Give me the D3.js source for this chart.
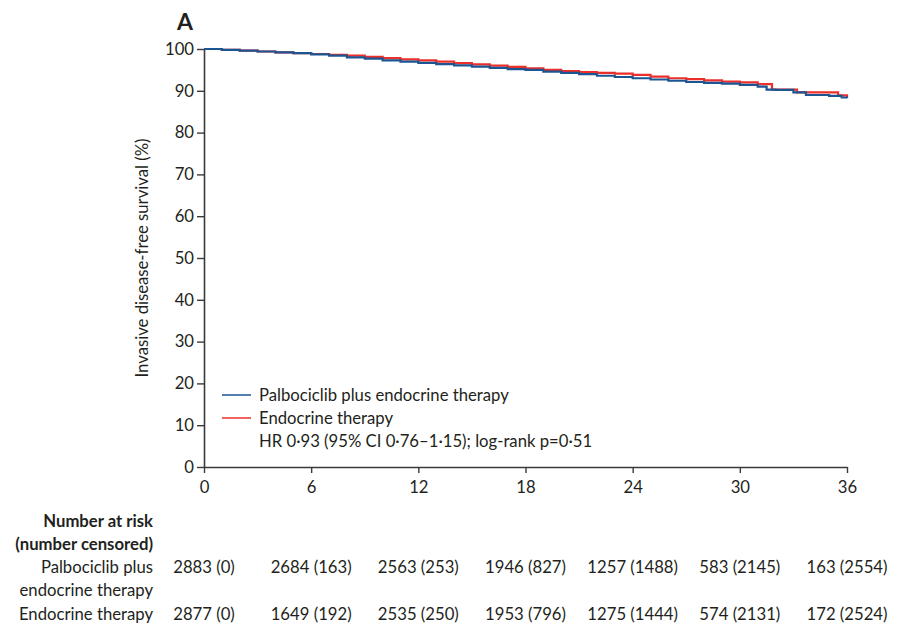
<!DOCTYPE html>
<html>
<head>
<meta charset="utf-8">
<script src="https://cdn.jsdelivr.net/npm/d3@7"></script>
<style>
  body { margin: 0; background: #fff; }
  text { font-family: Lato, "Noto Sans", sans-serif; fill: #231f20; }
</style>
</head>
<body>
<div id="chart"></div>
<script>
// Data
var xTicks = [0, 6, 12, 18, 24, 30, 36];
var yTicks = [0, 10, 20, 30, 40, 50, 60, 70, 80, 90, 100];

var palboMonths = [0, 1, 2, 3, 4, 5, 6, 7, 8, 9, 10, 11, 12, 13, 14, 15, 16, 17, 18, 19, 20, 21, 22, 23, 24, 25, 26, 27, 28, 29, 30, 31, 31.5, 32, 33, 33.7, 35, 35.7, 36];
var palboSurv = [100, 99.8, 99.6, 99.4, 99.2, 99.0, 98.7, 98.4, 98.0, 97.7, 97.3, 97.0, 96.7, 96.4, 96.1, 95.8, 95.5, 95.2, 95.0, 94.6, 94.3, 94.0, 93.6, 93.3, 93.0, 92.7, 92.4, 92.1, 91.9, 91.7, 91.4, 91.0, 90.3, 90.2, 89.6, 89.0, 88.8, 88.4, 88.2];

var endoMonths = [0, 1, 2, 3, 4, 5, 6, 7, 8, 9, 10, 11, 12, 13, 14, 15, 16, 17, 18, 19, 20, 21, 22, 23, 24, 25, 26, 27, 28, 29, 30, 31, 31.8, 32, 33.2, 35.5, 36];
var endoSurv = [100, 99.8, 99.6, 99.4, 99.2, 99.0, 98.8, 98.6, 98.4, 98.1, 97.8, 97.5, 97.3, 97.0, 96.6, 96.3, 96.0, 95.7, 95.4, 95.0, 94.7, 94.5, 94.3, 94.1, 93.8, 93.4, 93.0, 92.8, 92.5, 92.2, 92.0, 91.6, 90.3, 90.3, 89.6, 88.9, 88.5];

var riskPalbo = ["2883 (0)", "2684 (163)", "2563 (253)", "1946 (827)", "1257 (1488)", "583 (2145)", "163 (2554)"];
var riskEndo = ["2877 (0)", "1649 (192)", "2535 (250)", "1953 (796)", "1275 (1444)", "574 (2131)", "172 (2524)"];

var blue = "#1b5592";
var red = "#ec2f2a";
var fs = "16.7px";

var svgWidth = 902, svgHeight = 640;
var margin = { top: 49, left: 204, right: 55, bottom: 173 };
var width = svgWidth - margin.left - margin.right;
var height = svgHeight - margin.top - margin.bottom;

var svg = d3.select("#chart").append("svg")
    .attr("width", svgWidth)
    .attr("height", svgHeight);

var g = svg.append("g")
    .attr("transform", `translate(${margin.left}, ${margin.top})`);

var x = d3.scaleLinear().domain([0, 36]).range([0, width]);
var y = d3.scaleLinear().domain([0, 100]).range([height, 0]);

// axes
var xAxis = g.append("g")
    .attr("transform", `translate(0, ${height})`)
    .call(d3.axisBottom(x).tickValues(xTicks).tickSize(6).tickSizeOuter(0).tickPadding(8));
var yAxis = g.append("g")
    .call(d3.axisLeft(y).tickValues(yTicks).tickSize(7).tickSizeOuter(0).tickPadding(3));

[xAxis, yAxis].forEach(function(a) {
    a.select(".domain").attr("stroke", "#3a3a3a").attr("stroke-width", 1.6);
    a.selectAll(".tick line").attr("stroke", "#3a3a3a").attr("stroke-width", 1.4);
    a.selectAll(".tick text").attr("font-size", fs).attr("font-family", "Lato, sans-serif").attr("fill", "#231f20");
});

// curves
var line = d3.line()
    .x(d => x(d[0]))
    .y(d => y(d[1]))
    .curve(d3.curveStepAfter);

var endoData = endoMonths.map((m, i) => [m, endoSurv[i]]);
var palboData = palboMonths.map((m, i) => [m, palboSurv[i]]);

g.append("path").datum(endoData)
    .attr("d", line).attr("fill", "none")
    .attr("stroke", red).attr("stroke-width", 2.2);
g.append("path").datum(palboData)
    .attr("d", line).attr("fill", "none")
    .attr("stroke", blue).attr("stroke-width", 2.2);

// panel letter
svg.append("text")
    .attr("x", 177).attr("y", 30)
    .attr("font-size", "23px").attr("font-weight", "bold")
    .text("A");

// y label
svg.append("text")
    .attr("transform", "translate(148, 258) rotate(-90)")
    .attr("text-anchor", "middle")
    .attr("font-size", fs)
    .text("Invasive disease-free survival (%)");

// legend
var legend = [
    { label: "Palbociclib plus endocrine therapy", color: blue },
    { label: "Endocrine therapy", color: red }
];
legend.forEach(function(d, i) {
    var ly = 395 + i * 23;
    svg.append("line")
        .attr("x1", 222).attr("x2", 251)
        .attr("y1", ly).attr("y2", ly)
        .attr("stroke", d.color).attr("stroke-width", 1.5);
    svg.append("text")
        .attr("x", 259).attr("y", ly + 6)
        .attr("font-size", fs)
        .text(d.label);
});
svg.append("text")
    .attr("x", 259).attr("y", 447)
    .attr("font-size", fs)
    .text("HR 0·93 (95% CI 0·76–1·15); log-rank p=0·51");

// number at risk table
var labelX = 153;
svg.append("text").attr("x", labelX).attr("y", 527)
    .attr("text-anchor", "end").attr("font-size", fs).attr("font-weight", "bold")
    .text("Number at risk");
svg.append("text").attr("x", labelX).attr("y", 550)
    .attr("text-anchor", "end").attr("font-size", fs).attr("font-weight", "bold")
    .text("(number censored)");
svg.append("text").attr("x", labelX).attr("y", 573)
    .attr("text-anchor", "end").attr("font-size", fs)
    .text("Palbociclib plus");
svg.append("text").attr("x", labelX).attr("y", 596)
    .attr("text-anchor", "end").attr("font-size", fs)
    .text("endocrine therapy");
svg.append("text").attr("x", labelX).attr("y", 620)
    .attr("text-anchor", "end").attr("font-size", fs)
    .text("Endocrine therapy");

svg.selectAll(".riskPalbo")
    .data(riskPalbo).enter().append("text")
    .attr("x", (d, i) => margin.left + x(xTicks[i]))
    .attr("y", 573)
    .attr("text-anchor", "middle").attr("font-size", fs)
    .text(d => d);
svg.selectAll(".riskEndo")
    .data(riskEndo).enter().append("text")
    .attr("x", (d, i) => margin.left + x(xTicks[i]))
    .attr("y", 620)
    .attr("text-anchor", "middle").attr("font-size", fs)
    .text(d => d);
</script>
</body>
</html>
